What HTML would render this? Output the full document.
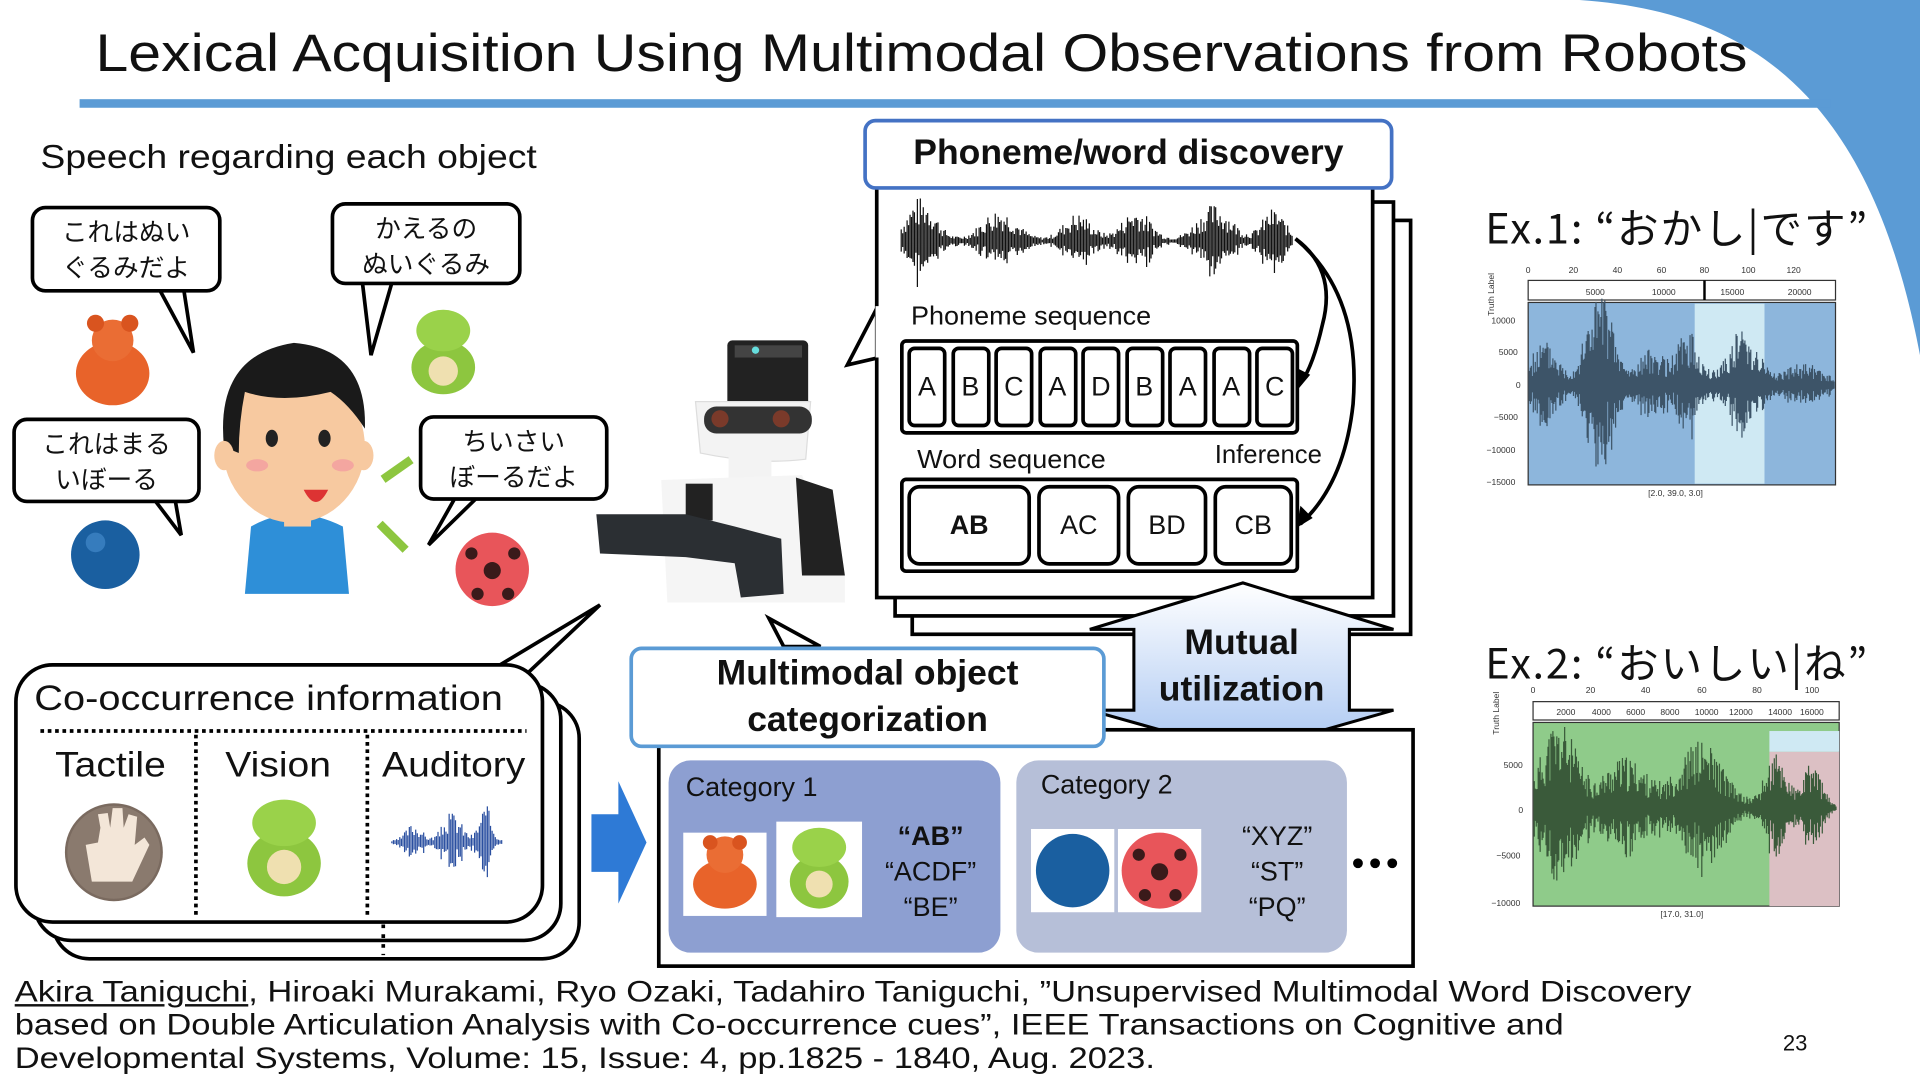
<!DOCTYPE html>
<html><head><meta charset="utf-8">
<style>
html,body{margin:0;padding:0;background:#fff;overflow:hidden;}
#w{position:absolute;left:0;top:0;width:1568px;height:882px;transform:scale(1.22449);transform-origin:0 0;font-family:"Liberation Sans","Noto Sans CJK JP",sans-serif;color:#111;}
.a{position:absolute;}
.jp{font-family:"Noto Sans CJK JP","Liberation Sans",sans-serif;}
.sx{transform-origin:0 0;white-space:nowrap;}
.bub{position:absolute;border:3px solid #000;border-radius:12px;background:#fff;font-size:21px;line-height:29px;text-align:center;box-sizing:border-box;padding-top:4px;font-family:"Noto Sans CJK JP",sans-serif;}
.cell{position:absolute;border:3px solid #000;border-radius:6px;background:#fff;font-size:22px;text-align:center;box-sizing:border-box;}
</style></head><body>
<div id="w">
<svg class="a" style="left:0;top:0" width="1568" height="882">
 <path d="M1290,0 C1440,10 1530,90 1568,290 L1568,0 Z" fill="#5b9bd5"/>
 <rect x="65" y="81" width="1430" height="7" fill="#5b9bd5"/>
 <polygon points="130,236 158,288 150,236" fill="#fff" stroke="#000" stroke-width="3"/>
 <polygon points="296,231 303,290 320,231" fill="#fff" stroke="#000" stroke-width="3"/>
 <polygon points="126,408 148,437 143,408" fill="#fff" stroke="#000" stroke-width="3"/>
 <polygon points="372,406 350,445 390,406" fill="#fff" stroke="#000" stroke-width="3"/>
 <g><ellipse cx="92" cy="305" rx="30" ry="26" fill="#e8632a"/><circle cx="92" cy="278" r="17" fill="#ea6d34"/><circle cx="78" cy="264" r="7" fill="#d9541f"/><circle cx="106" cy="264" r="7" fill="#d9541f"/></g>
 <g><ellipse cx="362" cy="300" rx="26" ry="22" fill="#8dc63f"/><ellipse cx="362" cy="270" rx="22" ry="17" fill="#9ad24a"/><ellipse cx="362" cy="303" rx="12" ry="12" fill="#efe0b0"/></g>
 <circle cx="86" cy="453" r="28" fill="#1a5fa0"/><circle cx="78" cy="443" r="8" fill="#4a8fd0" opacity=".6"/>
 <circle cx="402" cy="465" r="30" fill="#e8555a"/><circle cx="402" cy="466" r="7" fill="#3a1a1a"/><circle cx="385" cy="452" r="5" fill="#3a1a1a"/><circle cx="420" cy="452" r="5" fill="#3a1a1a"/><circle cx="390" cy="485" r="5" fill="#3a1a1a"/><circle cx="415" cy="485" r="5" fill="#3a1a1a"/>
 <path d="M200,485 L205,430 Q240,410 280,430 L285,485 Z" fill="#2e8fd8"/>
 <rect x="232" y="415" width="22" height="15" fill="#f7c9a0"/>
 <ellipse cx="240" cy="365" rx="58" ry="62" fill="#f7c9a0"/>
 <path d="M183,365 Q175,290 240,280 Q300,285 298,350 Q285,330 270,320 Q230,330 200,320 Q195,345 195,370 Z" fill="#1a1a1a"/>
 <ellipse cx="183" cy="372" rx="8" ry="12" fill="#f7c9a0"/><ellipse cx="297" cy="372" rx="8" ry="12" fill="#f7c9a0"/>
 <ellipse cx="222" cy="358" rx="5" ry="7" fill="#222"/><ellipse cx="265" cy="358" rx="5" ry="7" fill="#222"/>
 <ellipse cx="210" cy="380" rx="9" ry="5" fill="#f4a6a0"/><ellipse cx="280" cy="380" rx="9" ry="5" fill="#f4a6a0"/>
 <path d="M248,400 Q258,420 268,400 Z" fill="#d33"/>
 <rect x="310" y="380" width="28" height="7" fill="#8dc63f" transform="rotate(-35 324 383)"/>
 <rect x="306" y="435" width="30" height="7" fill="#8dc63f" transform="rotate(45 321 438)"/>
 <rect x="594" y="278" width="66" height="55" rx="4" fill="#222"/>
 <rect x="600" y="282" width="55" height="10" fill="#444"/><circle cx="617" cy="286" r="3" fill="#6dd"/>
 <path d="M568,328 L662,328 L658,375 Q620,380 572,370 Z" fill="#f3f3f3" stroke="#ddd"/>
 <rect x="575" y="332" width="88" height="22" rx="10" fill="#333"/>
 <circle cx="588" cy="342" r="7" fill="#7a3a2a"/><circle cx="638" cy="342" r="7" fill="#7a3a2a"/>
 <rect x="595" y="370" width="35" height="30" fill="#f3f3f3"/>
 <path d="M540,392 L655,388 L690,470 L690,492 L545,492 Z" fill="#f5f5f5"/>
 <path d="M650,390 L680,400 L690,470 L655,470 Z" fill="#222"/>
 <rect x="560" y="395" width="22" height="30" fill="#222"/>
 <path d="M487,420 L560,420 L600,430 L638,440 L640,485 L605,488 L600,460 L560,455 L490,452 Z" fill="#2b2f33"/>
 <polygon points="718,248 692,298 718,292" fill="#fff" stroke="#000" stroke-width="3"/>
 <rect x="745" y="180" width="407" height="338" fill="#fff" stroke="#000" stroke-width="3"/>
 <rect x="731" y="165" width="407" height="338" fill="#fff" stroke="#000" stroke-width="3"/>
 <rect x="716" y="150" width="405" height="338" fill="#fff" stroke="#000" stroke-width="3"/>
 <line x1="717" y1="250" x2="717" y2="292" stroke="#fff" stroke-width="4"/>
 <g id="wave1"></g>
 <path d="M1058,195 Q1092,220 1080,265 Q1072,300 1062,313" fill="none" stroke="#000" stroke-width="3"/>
 <polygon points="1060,318 1058,300 1070,306" fill="#000"/>
 <path d="M1058,195 Q1112,240 1105,330 Q1098,395 1062,428" fill="none" stroke="#000" stroke-width="3"/>
 <polygon points="1059,431 1062,413 1072,423" fill="#000"/>
 <defs><linearGradient id="g1" x1="0" y1="0" x2="0" y2="1"><stop offset="0" stop-color="#ffffff"/><stop offset="1" stop-color="#a9c6f2"/></linearGradient></defs>
 <polygon points="1015,476 1138,514 1102,514 1102,580 1138,580 1015,615 890,580 926,580 926,514 890,514" fill="url(#g1)" stroke="#000" stroke-width="2.5"/>
 <rect x="538" y="596" width="616" height="193" fill="#fff" stroke="#000" stroke-width="3"/>
 <rect x="546" y="621" width="271" height="157" rx="18" fill="#8d9fd1"/>
 <rect x="830" y="621" width="270" height="157" rx="18" fill="#b6bfd8"/>
 <polygon points="628,505 670,528 640,528" fill="#fff" stroke="#000" stroke-width="3"/>
 <polygon points="483,665 505,665 505,638 528,688 505,738 505,712 483,712" fill="#2e7ad6"/>
 <rect x="43" y="573" width="430" height="210" rx="30" fill="#fff" stroke="#000" stroke-width="3"/>
 <rect x="28" y="558" width="430" height="210" rx="30" fill="#fff" stroke="#000" stroke-width="3"/>
 <polygon points="380,560 490,494 420,560" fill="#fff" stroke="#000" stroke-width="3"/>
 <rect x="13" y="543" width="430" height="210" rx="30" fill="#fff" stroke="#000" stroke-width="3"/>
 <line x1="33" y1="597" x2="430" y2="597" stroke="#000" stroke-width="3" stroke-dasharray="3,3"/>
 <line x1="160" y1="600" x2="160" y2="750" stroke="#000" stroke-width="3" stroke-dasharray="3,3"/>
 <line x1="300" y1="600" x2="300" y2="750" stroke="#000" stroke-width="3" stroke-dasharray="3,3"/>
 <line x1="313" y1="755" x2="313" y2="780" stroke="#000" stroke-width="3" stroke-dasharray="3,5"/>
 <circle cx="93" cy="696" r="40" fill="#7a6a5f"/><circle cx="93" cy="696" r="38" fill="#8a7a6e"/>
 <path d="M75,720 L70,690 L80,688 L82,676 L80,665 L88,664 L90,676 L92,660 L100,660 L101,676 L105,665 L112,667 L110,690 L118,684 L122,690 L108,720 Z" fill="#f3e6d8"/>
 <g><ellipse cx="232" cy="705" rx="30" ry="27" fill="#8dc63f"/><ellipse cx="232" cy="672" rx="26" ry="19" fill="#9ad24a"/><ellipse cx="232" cy="708" rx="14" ry="14" fill="#efe0b0"/></g>
 <g id="wave2"></g>
 <rect x="558" y="680" width="68" height="68" fill="#fff"/>
 <g><ellipse cx="592" cy="722" rx="26" ry="20" fill="#e8632a"/><circle cx="592" cy="698" r="15" fill="#ea6d34"/><circle cx="580" cy="688" r="6" fill="#d9541f"/><circle cx="604" cy="688" r="6" fill="#d9541f"/></g>
 <rect x="634" y="671" width="70" height="78" fill="#fff"/>
 <g><ellipse cx="669" cy="720" rx="24" ry="22" fill="#8dc63f"/><ellipse cx="669" cy="692" rx="22" ry="16" fill="#9ad24a"/><ellipse cx="669" cy="722" rx="11" ry="11" fill="#efe0b0"/></g>
 <rect x="842" y="677" width="68" height="68" fill="#fff"/><circle cx="876" cy="711" r="30" fill="#1a5fa0"/>
 <rect x="913" y="677" width="68" height="68" fill="#fff"/><circle cx="947" cy="711" r="31" fill="#e8555a"/><circle cx="947" cy="712" r="7" fill="#3a1a1a"/><circle cx="930" cy="698" r="5" fill="#3a1a1a"/><circle cx="964" cy="698" r="5" fill="#3a1a1a"/><circle cx="935" cy="731" r="5" fill="#3a1a1a"/><circle cx="960" cy="731" r="5" fill="#3a1a1a"/>
 <circle cx="1109" cy="705" r="4" fill="#000"/><circle cx="1123" cy="705" r="4" fill="#000"/><circle cx="1137" cy="705" r="4" fill="#000"/>
 <rect x="1248" y="229" width="251" height="16" fill="#fff" stroke="#333"/>
 <rect x="1248" y="247" width="251" height="149" fill="#8db6dc" stroke="#333"/>
 <rect x="1384" y="248" width="57" height="147" fill="#cfe9f3"/>
 <rect x="1391" y="229" width="2" height="16" fill="#000"/>
 <g id="wave3"></g>
 <rect x="1252" y="573" width="250" height="15" fill="#fff" stroke="#333"/>
 <rect x="1252" y="590" width="250" height="150" fill="#8fcb8a" stroke="#333"/>
 <rect x="1445" y="597" width="57" height="17" fill="#cfe9f3"/>
 <rect x="1445" y="614" width="57" height="126" fill="#dcc0c4"/>
 <g id="wave4"></g>
 <g font-size="7" fill="#333" font-family="Liberation Sans">
  <text x="1246" y="223">0</text><text x="1281" y="223">20</text><text x="1317" y="223">40</text><text x="1353" y="223">60</text><text x="1388" y="223">80</text><text x="1422" y="223">100</text><text x="1459" y="223">120</text>
  <text x="1295" y="241">5000</text><text x="1349" y="241">10000</text><text x="1405" y="241">15000</text><text x="1460" y="241">20000</text>
  <text x="1218" y="264">10000</text><text x="1224" y="290">5000</text><text x="1238" y="317">0</text><text x="1220" y="343">−5000</text><text x="1214" y="370">−10000</text><text x="1214" y="396">−15000</text>
  <text x="1346" y="405">[2.0, 39.0, 3.0]</text>
  <text x="1250" y="566">0</text><text x="1295" y="566">20</text><text x="1340" y="566">40</text><text x="1386" y="566">60</text><text x="1431" y="566">80</text><text x="1474" y="566">100</text>
  <text x="1271" y="584">2000</text><text x="1300" y="584">4000</text><text x="1328" y="584">6000</text><text x="1356" y="584">8000</text><text x="1384" y="584">10000</text><text x="1412" y="584">12000</text><text x="1444" y="584">14000</text><text x="1470" y="584">16000</text>
  <text x="1228" y="627">5000</text><text x="1240" y="664">0</text><text x="1222" y="701">−5000</text><text x="1218" y="740">−10000</text>
  <text x="1356" y="749">[17.0, 31.0]</text>
  <text transform="translate(1220,258) rotate(-90)">Truth Label</text>
  <text transform="translate(1224,600) rotate(-90)">Truth Label</text>
 </g>
</svg>

<div class="a sx" style="left:78px;top:20px;font-size:43px;transform:scaleX(1.12);">Lexical Acquisition Using Multimodal Observations from Robots</div>
<div class="a sx" style="left:33px;top:113px;font-size:27px;transform:scaleX(1.13);">Speech regarding each object</div>

<div class="bub" style="left:25px;top:168px;width:156px;height:71px;">これはぬい<br>ぐるみだよ</div>
<div class="bub" style="left:270px;top:165px;width:156px;height:68px;">かえるの<br>ぬいぐるみ</div>
<div class="bub" style="left:10px;top:341px;width:154px;height:70px;">これはまる<br>いぼーる</div>
<div class="bub" style="left:342px;top:339px;width:155px;height:70px;">ちいさい<br>ぼーるだよ</div>

<div class="a" style="left:705px;top:97px;width:433px;height:58px;border:3px solid #4472c4;border-radius:10px;background:#fff;box-sizing:border-box;font-weight:bold;font-size:29px;text-align:center;line-height:50px;">Phoneme/word discovery</div>
<div class="a sx" style="left:744px;top:247px;font-size:21px;transform:scaleX(1.05);">Phoneme sequence</div>
<div class="a" style="left:735px;top:277px;width:326px;height:78px;border:3px solid #000;border-radius:5px;box-sizing:border-box;"></div>
<div id="ph"></div>
<div class="a sx" style="left:749px;top:364px;font-size:21px;transform:scaleX(1.05);">Word sequence</div>
<div class="a" style="left:992px;top:360px;font-size:21px;">Inference</div>
<div class="a" style="left:735px;top:390px;width:326px;height:78px;border:3px solid #000;border-radius:5px;box-sizing:border-box;"></div>
<div class="cell" style="left:741px;top:396px;width:101px;height:66px;line-height:60px;font-weight:bold;border-radius:10px;">AB</div>
<div class="cell" style="left:847px;top:396px;width:68px;height:66px;line-height:60px;border-radius:10px;">AC</div>
<div class="cell" style="left:920px;top:396px;width:66px;height:66px;line-height:60px;border-radius:10px;">BD</div>
<div class="cell" style="left:991px;top:396px;width:65px;height:66px;line-height:60px;border-radius:10px;">CB</div>

<div class="a" style="left:926px;top:506px;width:176px;text-align:center;font-weight:bold;font-size:29px;line-height:38px;">Mutual<br>utilization</div>
<div class="a" style="left:514px;top:528px;width:389px;height:83px;border:3px solid #5b9bd5;border-radius:10px;background:#fff;box-sizing:border-box;font-weight:bold;font-size:29px;text-align:center;line-height:38px;padding-top:0px;">Multimodal object<br>categorization</div>
<div class="a" style="left:560px;top:630px;font-size:22px;">Category 1</div>
<div class="a" style="left:850px;top:628px;font-size:22px;">Category 2</div>
<div class="a" style="left:712px;top:668px;width:96px;text-align:center;font-size:22px;line-height:29px;"><b>“AB”</b><br>“ACDF”<br>“BE”</div>
<div class="a" style="left:995px;top:668px;width:96px;text-align:center;font-size:22px;line-height:29px;">“XYZ”<br>“ST”<br>“PQ”</div>

<div class="a sx" style="left:28px;top:555px;font-size:29px;transform:scaleX(1.12);">Co-occurrence information</div>
<div class="a sx" style="left:45px;top:609px;font-size:29px;transform:scaleX(1.1);">Tactile</div>
<div class="a sx" style="left:184px;top:609px;font-size:29px;transform:scaleX(1.1);">Vision</div>
<div class="a sx" style="left:312px;top:609px;font-size:29px;transform:scaleX(1.1);">Auditory</div>

<div class="a jp" style="left:1213px;top:160px;font-size:34px;white-space:nowrap;letter-spacing:1.5px;">Ex.1: “おかし|です”</div>
<div class="a jp" style="left:1213px;top:515px;font-size:34px;white-space:nowrap;letter-spacing:1.5px;">Ex.2: “おいしい|ね”</div>

<div class="a sx" style="left:12px;top:797px;font-size:24px;line-height:27px;transform:scaleX(1.175);"><u>Akira Taniguchi</u>, Hiroaki Murakami, Ryo Ozaki, Tadahiro Taniguchi, ”Unsupervised Multimodal Word Discovery<br>based on Double Articulation Analysis with Co-occurrence cues”, IEEE Transactions on Cognitive and<br>Developmental Systems, Volume: 15, Issue: 4, pp.1825 - 1840, Aug. 2023.</div>
<div class="a" style="left:1456px;top:842px;font-size:18px;">23</div>
</div>
<script>
var L="ABCADBAAC",h="";
for(var i=0;i<9;i++){h+='<div class="cell" style="left:'+(741+i*35.5)+'px;top:283px;width:32px;height:66px;line-height:60px;">'+L[i]+'</div>';}
document.getElementById('ph').innerHTML=h;
function rnd(s){return function(){s=(s*9301+49297)%233280;return s/233280;};}
function wave(id,x0,x1,yc,amp,env,col,seed,step){
 var r=rnd(seed),d="";
 for(var x=x0;x<=x1;x+=step){var e=env((x-x0)/(x1-x0));var a=amp*e*(0.3+0.7*r());d+="M"+x.toFixed(1)+","+(yc-a).toFixed(1)+"L"+x.toFixed(1)+","+(yc+a*(0.6+0.5*r())).toFixed(1);}
 document.getElementById(id).innerHTML='<path d="'+d+'" stroke="'+col+'" stroke-width="1" fill="none"/>';
}
function bumps(b){return function(t){var v=0.05;for(var i=0;i<b.length;i++){var q=(t-b[i][0])/b[i][1];v+=b[i][2]*Math.exp(-q*q);}return Math.min(v,1);};}
wave('wave1',736,1056,197,36,bumps([[0.05,0.05,1],[0.25,0.06,0.7],[0.45,0.05,0.6],[0.6,0.05,0.7],[0.8,0.06,0.8],[0.95,0.04,0.7]]),'#111',7,1.2);
wave('wave2',320,410,688,30,bumps([[0.2,0.1,0.5],[0.55,0.12,0.8],[0.85,0.08,1]]),'#2a4fa0',3,1.3);
wave('wave3',1249,1498,315,75,bumps([[0.05,0.06,0.45],[0.23,0.06,1],[0.4,0.06,0.35],[0.52,0.05,0.55],[0.7,0.07,0.6],[0.9,0.08,0.2]]),'#3d5468',5,0.8);
wave('wave4',1253,1500,660,70,bumps([[0.08,0.08,1],[0.3,0.1,0.55],[0.55,0.1,0.75],[0.8,0.05,0.6],[0.92,0.04,0.5]]),'#3a5a3a',11,0.8);
</script>
</body></html>
